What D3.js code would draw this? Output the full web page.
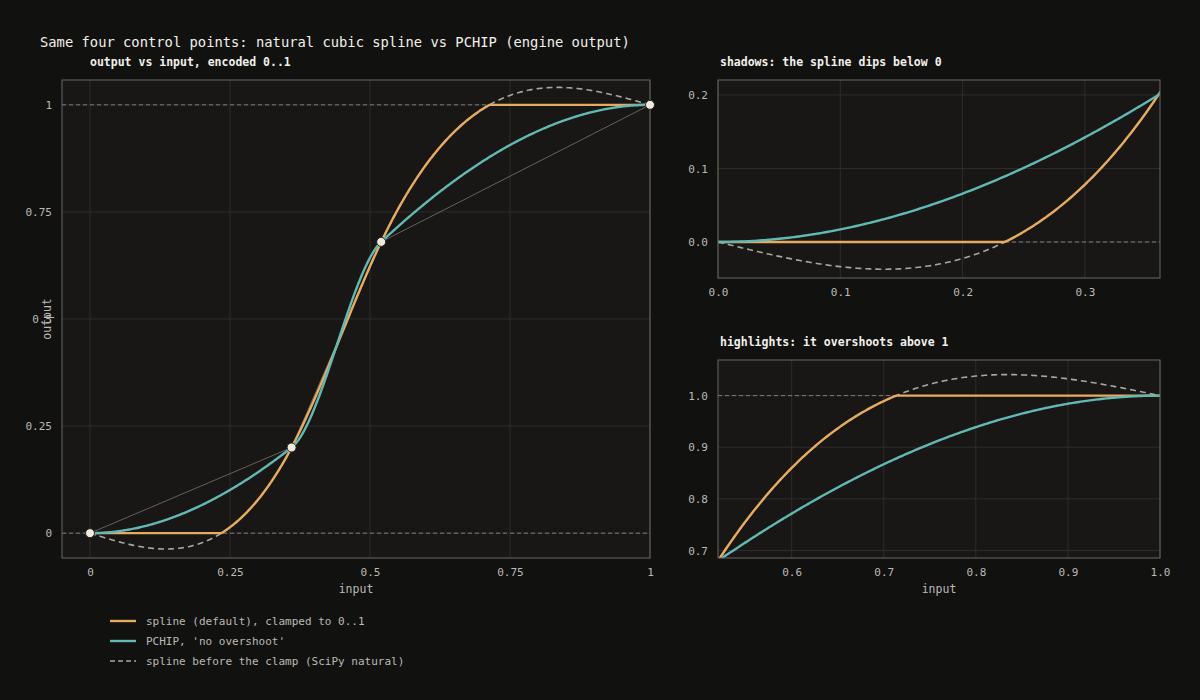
<!DOCTYPE html>
<html lang="en">
<head>
<meta charset="UTF-8">
<title>Spline vs PCHIP</title>
<style>
  body { margin: 0; background: #111110; }
  text { font-family: "DejaVu Sans Mono", monospace; }
</style>
<script src="https://d3js.org/d3.v7.min.js"></script>
</head>
<body>
<svg id="chart" width="1200" height="700"></svg>
<script>
// control points shared by every curve
const ctrlX = [0, 0.36, 0.52, 1];
const ctrlY = [0, 0.2, 0.68, 1];
const legendLabels = ["spline (default), clamped to 0..1", "PCHIP, 'no overshoot'", "spline before the clamp (SciPy natural)"];
const mainTicksX = [0, 0.25, 0.5, 0.75, 1];
const mainTicksY = [0, 0.25, 0.5, 0.75, 1];
const shadowTicksX = [0, 0.1, 0.2, 0.3];
const shadowTicksY = [0, 0.1, 0.2];
const highTicksX = [0.6, 0.7, 0.8, 0.9, 1.0];
const highTicksY = [0.7, 0.8, 0.9, 1.0];

const C = { orange: "#e8aa5e", teal: "#62b9b4", dash: "#a8a6a2", grid: "#2e2d2b", frame: "#6a6864", text: "#bdbab4", title: "#f2f0ea" };
const pts = ctrlX.map((x, i) => [x, ctrlY[i]]);
const n = ctrlX.length;
const h = d3.range(n - 1).map(i => ctrlX[i + 1] - ctrlX[i]);
const del = d3.range(n - 1).map(i => (ctrlY[i + 1] - ctrlY[i]) / h[i]);

// natural cubic spline second derivatives (tridiagonal solve)
function naturalM() {
  const M = new Array(n).fill(0), a = [], b = [], c = [], r = [];
  for (let i = 1; i < n - 1; i++) {
    a.push(h[i - 1]); b.push(2 * (h[i - 1] + h[i])); c.push(h[i]); r.push(6 * (del[i] - del[i - 1]));
  }
  const m = b.length;
  for (let i = 1; i < m; i++) { const w = a[i] / b[i - 1]; b[i] -= w * c[i - 1]; r[i] -= w * r[i - 1]; }
  const s = new Array(m);
  s[m - 1] = r[m - 1] / b[m - 1];
  for (let i = m - 2; i >= 0; i--) s[i] = (r[i] - c[i] * s[i + 1]) / b[i];
  s.forEach((v, i) => M[i + 1] = v);
  return M;
}
const M = naturalM();
function seg(t) { let i = 0; while (i < n - 2 && t > ctrlX[i + 1]) i++; return i; }
function spline(t) {
  const i = seg(t), A = ctrlX[i + 1] - t, B = t - ctrlX[i], hi = h[i];
  return M[i] * A * A * A / (6 * hi) + M[i + 1] * B * B * B / (6 * hi)
    + (ctrlY[i] / hi - M[i] * hi / 6) * A + (ctrlY[i + 1] / hi - M[i + 1] * hi / 6) * B;
}
// PCHIP slopes (SciPy style)
const sgn = Math.sign;
const dk = new Array(n).fill(0);
for (let k = 1; k < n - 1; k++) {
  if (sgn(del[k - 1]) * sgn(del[k]) > 0) {
    const w1 = 2 * h[k] + h[k - 1], w2 = h[k] + 2 * h[k - 1];
    dk[k] = (w1 + w2) / (w1 / del[k - 1] + w2 / del[k]);
  }
}
function endSlope(h0, h1, m0, m1) {
  let d = ((2 * h0 + h1) * m0 - h0 * m1) / (h0 + h1);
  if (sgn(d) !== sgn(m0)) d = 0;
  else if (sgn(m0) !== sgn(m1) && Math.abs(d) > 3 * Math.abs(m0)) d = 3 * m0;
  return d;
}
dk[0] = endSlope(h[0], h[1], del[0], del[1]);
dk[n - 1] = endSlope(h[n - 2], h[n - 3], del[n - 2], del[n - 3]);
function pchip(t) {
  const i = seg(t), hi = h[i], s = (t - ctrlX[i]) / hi;
  const h00 = 2 * s ** 3 - 3 * s ** 2 + 1, h10 = s ** 3 - 2 * s ** 2 + s, h01 = -2 * s ** 3 + 3 * s ** 2, h11 = s ** 3 - s ** 2;
  return h00 * ctrlY[i] + h10 * hi * dk[i] + h01 * ctrlY[i + 1] + h11 * hi * dk[i + 1];
}
const grid = d3.range(0, 1.0001, 0.002);
const rawPts = grid.map(t => [t, spline(t)]);
const clampPts = grid.map(t => [t, Math.max(0, Math.min(1, spline(t)))]);
const pchipPts = grid.map(t => [t, pchip(t)]);

const svg = d3.select("#chart");
svg.append("text").attr("x", 40).attr("y", 47).attr("fill", C.title).attr("font-size", 13.8)
  .text("Same four control points: natural cubic spline vs PCHIP (engine output)");

function panel(id, box, xd, yd, tx, ty, fmtX, fmtY, o) {
  const x = d3.scaleLinear().domain(xd).range([box.x0, box.x1]);
  const y = d3.scaleLinear().domain(yd).range([box.y1, box.y0]);
  const g = svg.append("g");
  svg.append("defs").append("clipPath").attr("id", id + "-plot").append("rect")
    .attr("x", box.x0).attr("y", box.y0).attr("width", box.x1 - box.x0).attr("height", box.y1 - box.y0);

  g.append("rect").attr("x", box.x0).attr("y", box.y0).attr("width", box.x1 - box.x0).attr("height", box.y1 - box.y0)
    .attr("fill", "#181716");
  g.selectAll(".gx").data(tx).join("line").attr("x1", d => x(d)).attr("x2", d => x(d))
    .attr("y1", box.y0).attr("y2", box.y1).attr("stroke", C.grid);
  g.selectAll(".gy").data(ty).join("line").attr("y1", d => y(d)).attr("y2", d => y(d))
    .attr("x1", box.x0).attr("x2", box.x1).attr("stroke", C.grid);

  const ax = g.append("g").attr("transform", `translate(0,${box.y1})`)
    .call(d3.axisBottom(x).tickValues(tx).tickFormat(fmtX).tickSize(0).tickPadding(10));
  const ay = g.append("g").attr("transform", `translate(${box.x0},0)`)
    .call(d3.axisLeft(y).tickValues(ty).tickFormat(fmtY).tickSize(0).tickPadding(10));
  [ax, ay].forEach(a => { a.select(".domain").remove(); a.selectAll("text").attr("fill", C.text).attr("font-size", 11).style("font-family", "DejaVu Sans Mono"); });

  const c = g.append("g").attr("clip-path", `url(#${id}-plot)`);
  c.selectAll(".ref").data([0, 1]).join("line").attr("y1", d => y(d)).attr("y2", d => y(d))
    .attr("x1", box.x0).attr("x2", box.x1).attr("stroke", "#8a8884").attr("stroke-dasharray", "4,3").attr("stroke-width", 0.9);
  const line = d3.line().x(d => x(d[0])).y(d => y(d[1]));
  if (o.chord) c.append("path").attr("d", line(pts)).attr("fill", "none").attr("stroke", "#77756f").attr("stroke-width", 0.8);
  c.append("path").attr("d", line(rawPts)).attr("fill", "none")
    .attr("stroke", C.dash).attr("stroke-width", 1.6).attr("stroke-dasharray", "6,4");
  c.append("path").attr("d", line(clampPts)).attr("fill", "none").attr("stroke", C.orange).attr("stroke-width", 2.4);
  c.append("path").attr("d", line(pchipPts)).attr("fill", "none").attr("stroke", C.teal).attr("stroke-width", 2.4);
  g.append("rect").attr("x", box.x0).attr("y", box.y0).attr("width", box.x1 - box.x0).attr("height", box.y1 - box.y0)
    .attr("fill", "none").attr("stroke", C.frame);
  if (o.dots) g.selectAll(".pt").data(pts).join("circle").attr("cx", d => x(d[0])).attr("cy", d => y(d[1]))
    .attr("r", 4.5).attr("fill", "#eeeadc").attr("stroke", "#222").attr("stroke-width", 1);

  g.append("text").attr("x", o.titleX).attr("y", box.y0 - 14).attr("fill", C.title).attr("font-size", 11.5)
    .attr("font-weight", "bold").text(o.title);
  if (o.xlabel) g.append("text").attr("x", (box.x0 + box.x1) / 2).attr("y", box.y1 + 35).attr("text-anchor", "middle")
    .attr("fill", C.text).attr("font-size", 11.5).text(o.xlabel);
  if (o.ylabel) g.append("text").attr("transform", `translate(${box.x0 - 11},${(box.y0 + box.y1) / 2}) rotate(-90)`)
    .attr("text-anchor", "middle").attr("fill", C.text).attr("font-size", 11.5).text(o.ylabel);
}

const f = d => d3.format("")(d);
panel("m", { x0: 62, x1: 650, y0: 80, y1: 558 }, [-0.05, 1], [-0.058, 1.058], mainTicksX, mainTicksY, f, f,
  { chord: true, dots: true, title: "output vs input, encoded 0..1", titleX: 90, xlabel: "input", ylabel: "output" });
panel("s", { x0: 718, x1: 1160, y0: 80, y1: 278 }, [0, 0.3614], [-0.049, 0.2204], shadowTicksX, shadowTicksY,
  d3.format(".1f"), d3.format(".1f"), { title: "shadows: the spline dips below 0", titleX: 720 });
panel("h", { x0: 718, x1: 1160, y0: 360, y1: 558 }, [0.52, 1], [0.6855, 1.069], highTicksX, highTicksY,
  d3.format(".1f"), d3.format(".1f"), { title: "highlights: it overshoots above 1", titleX: 720, xlabel: "input" });

const lg = svg.append("g").attr("transform", "translate(110,621)");
legendLabels.forEach((t, i) => {
  const row = lg.append("g").attr("transform", `translate(0,${i * 20})`);
  row.append("line").attr("x1", 0).attr("x2", 26).attr("stroke", [C.orange, C.teal, C.dash][i])
    .attr("stroke-width", i < 2 ? 2.4 : 1.6).attr("stroke-dasharray", i === 2 ? "5,3" : null);
  row.append("text").attr("x", 36).attr("y", 4).attr("fill", C.text).attr("font-size", 11).text(t);
});
</script>
</body>
</html>
